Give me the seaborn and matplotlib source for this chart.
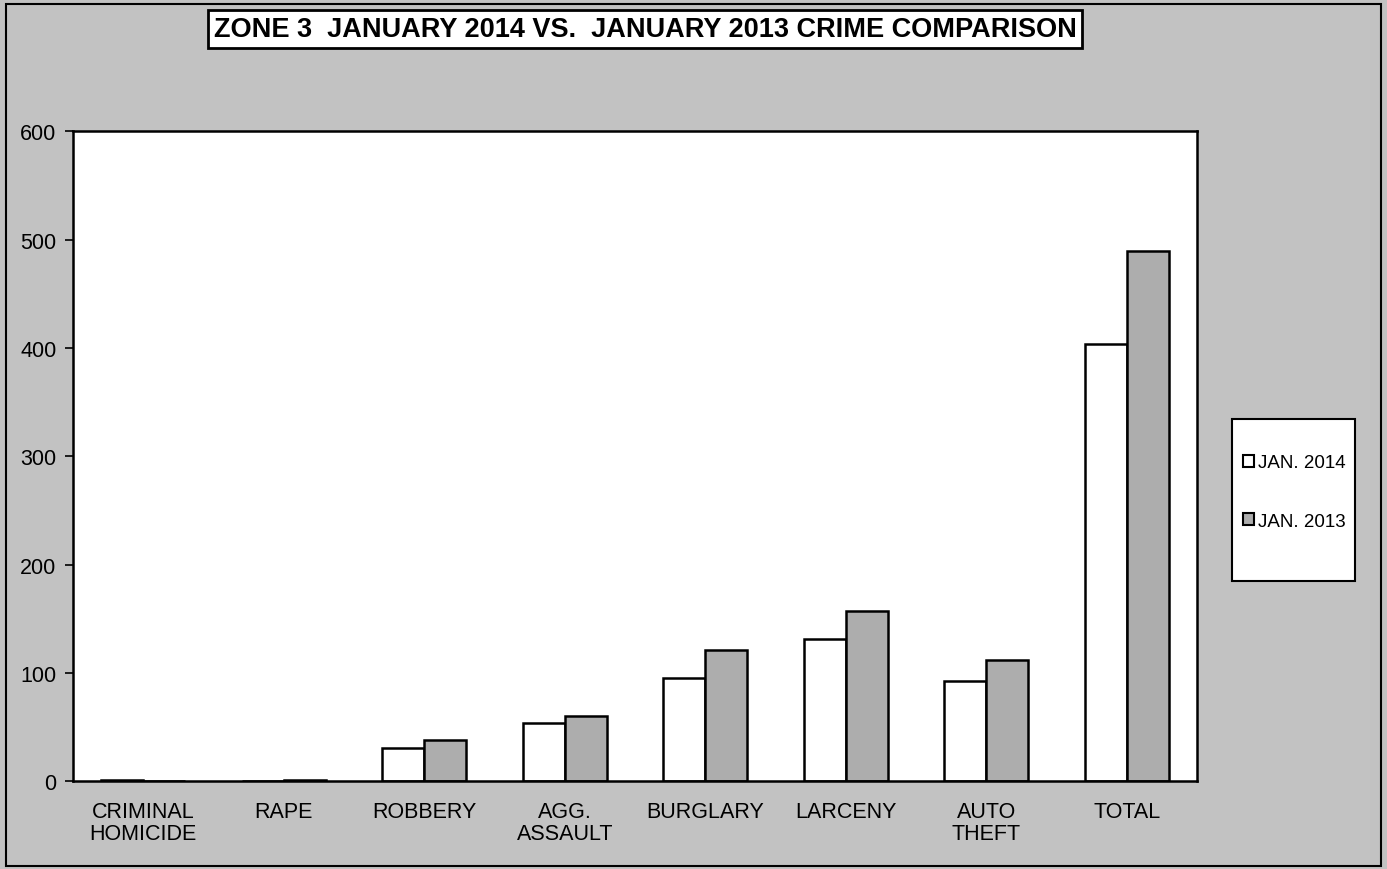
import matplotlib.pyplot as plt
import matplotlib.patches as mpatches
import pandas as pd
import seaborn as sns

# values
categories = ["CRIMINAL\nHOMICIDE", "RAPE", "ROBBERY", "AGG.\nASSAULT",
              "BURGLARY", "LARCENY", "AUTO\nTHEFT", "TOTAL"]
jan_2014 = [1, 0, 31, 54, 95, 131, 92, 404]
jan_2013 = [0, 1, 38, 60, 121, 157, 112, 489]
series = ["JAN. 2014", "JAN. 2013"]
y_ticks = [0, 100, 200, 300, 400, 500, 600]

df = pd.DataFrame({
    "crime": categories * 2,
    "count": jan_2014 + jan_2013,
    "year": [series[0]] * len(categories) + [series[1]] * len(categories),
})

sns.set_theme(style="white")
plt.rcParams['font.family'] = ['Liberation Sans', 'DejaVu Sans']

bg = "#c2c2c2"
fig = plt.figure(figsize=(13.87, 8.7), dpi=100, facecolor=bg)
ax = fig.add_axes([0.0526, 0.101, 0.8104, 0.747])
ax.set_facecolor("white")

sns.barplot(data=df, x="crime", y="count", hue="year", order=categories,
            hue_order=series, palette=["white", "#adadad"], width=0.6,
            edgecolor="black", linewidth=1.8, ax=ax, legend=False)

ax.set_xlim(-0.5, len(categories) - 0.5)
ax.set_ylim(0, 600)
ax.set_yticks(y_ticks)
ax.set_yticklabels([str(v) for v in y_ticks], fontsize=15.5, color="black")
ax.set_xticks(range(len(categories)))
ax.set_xticklabels(categories, fontsize=15.5, color="black", linespacing=1.1)
ax.set_xticks([i - 0.5 for i in range(len(categories) + 1)], minor=True)
ax.tick_params(axis="x", which="major", length=0, pad=14)
ax.tick_params(axis="x", which="minor", length=6, width=1.2, direction="out", color="black")
ax.tick_params(axis="y", length=6, width=1.2, direction="out", color="black", left=True, pad=6)
ax.set_xlabel("")
ax.set_ylabel("")
for s in ax.spines.values():
    s.set_color("black")
    s.set_linewidth(1.8)

# title box
fig.text(0.465, 0.9655, "ZONE 3  JANUARY 2014 VS.  JANUARY 2013 CRIME COMPARISON",
         ha="center", va="center", fontsize=19.5, fontweight="bold", color="black",
         bbox=dict(boxstyle="square,pad=0.22", facecolor="white", edgecolor="black", linewidth=2))

# legend box
fig.patches.append(mpatches.Rectangle((1232 / 1387, 1 - 582 / 870), 123 / 1387, 162 / 870,
                                      transform=fig.transFigure, facecolor="white",
                                      edgecolor="black", linewidth=1.5))
handles = [mpatches.Patch(facecolor="white", edgecolor="black", linewidth=1.5),
           mpatches.Patch(facecolor="#adadad", edgecolor="black", linewidth=1.5)]
fig.legend(handles, series, loc="center", bbox_to_anchor=(1294 / 1387, 1 - 493 / 870),
           frameon=False, fontsize=13.5, handlelength=0.6, handleheight=0.6,
           handletextpad=0.2, labelspacing=2.2, labelcolor="black")

# outer frame
fig.patches.append(mpatches.Rectangle((0.004, 0.004), 0.992, 0.99, transform=fig.transFigure,
                                      fill=False, edgecolor="black", linewidth=1.5))

fig.savefig("out.png", dpi=100, facecolor=bg)
